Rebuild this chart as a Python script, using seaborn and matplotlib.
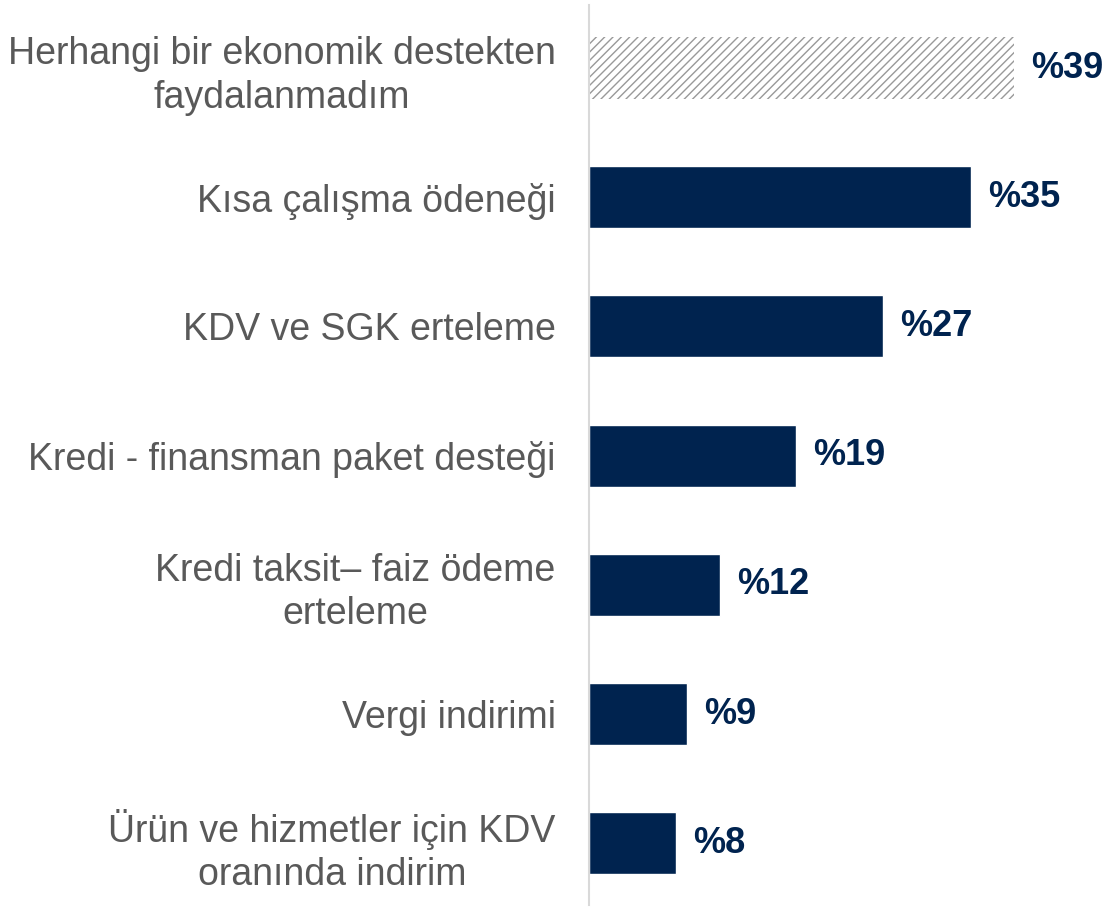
import pandas as pd
import seaborn as sns
import matplotlib.pyplot as plt

# Chart data
categories = [
    "Herhangi bir ekonomik destekten\nfaydalanmadım",
    "Kısa çalışma ödeneği",
    "KDV ve SGK erteleme",
    "Kredi - finansman paket desteği",
    "Kredi taksit– faiz ödeme\nerteleme",
    "Vergi indirimi",
    "Ürün ve hizmetler için KDV\noranında indirim",
]
values = [39, 35, 27, 19, 12, 9, 8]
value_labels = ["%39", "%35", "%27", "%19", "%12", "%9", "%8"]

navy = "#00234F"
label_gray = "#595959"

sns.set_theme(style="white")
plt.rcParams["font.family"] = ["Liberation Sans", "DejaVu Sans"]
plt.rcParams["hatch.linewidth"] = 1.0

df = pd.DataFrame({"kategori": categories, "oran": values})

fig = plt.figure(figsize=(11.07, 9.09), dpi=100)
ax = fig.add_axes([589 / 1107, 4 / 909, 1 - 589 / 1107, 900 / 909])

sns.barplot(data=df, x="oran", y="kategori", color=navy, orient="h",
            width=0.48, saturation=1, ax=ax)

# first bar is hatched grey instead of solid
first = ax.patches[0]
first.set_facecolor("white")
first.set_edgecolor("#999999")
first.set_linewidth(0)
first.set_hatch("////")

for i, (v, lab) in enumerate(zip(values, value_labels)):
    ax.annotate(lab, xy=(v, i), xytext=(17, 0), textcoords="offset pixels",
                ha="left", va="center", fontsize=26, fontweight="bold",
                color=navy)

ax.set_xlim(0, 47.5)
ax.set_ylim(6.478, -0.488)
ax.set_xlabel("")
ax.set_ylabel("")
ax.set_xticks([])
ax.tick_params(axis="y", length=0, pad=24)
for t in ax.get_yticklabels():
    t.set_fontsize(27)
    t.set_color(label_gray)
    t.set_multialignment("center")
    t.set_linespacing(1.27)

for s in ["top", "right", "bottom"]:
    ax.spines[s].set_visible(False)
ax.spines["left"].set_color("#d9d9d9")
ax.spines["left"].set_linewidth(1.5)

fig.savefig("out.png", dpi=100)
